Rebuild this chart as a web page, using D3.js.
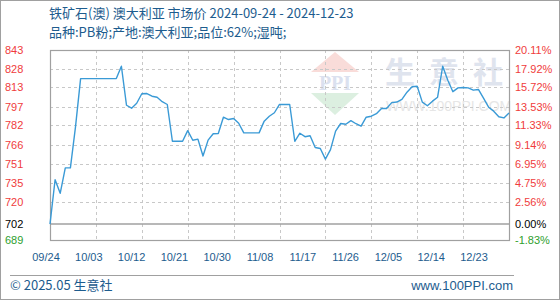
<!DOCTYPE html>
<html>
<head>
<meta charset="utf-8">
<script src="https://cdn.jsdelivr.net/npm/d3@7"></script>
<style>
  body { margin: 0; background: #fff; }
  svg text { font-family: "Liberation Sans", Arial, sans-serif; }
</style>
</head>
<body>
<div id="chart"></div>
<script>
// 铁矿石(澳) daily price, 2024-09-24 .. 2024-12-23
var startDate = "2024-09-24";
var prices = [
  702, 738, 727, 747.6, 747.6, 780.8, 820, 820, 820, 820,
  820, 820, 820, 820, 830, 798.4, 796, 800, 807.7, 807.9,
  805.7, 804.9, 801.3, 799, 769.2, 769.2, 769.2, 777.8, 770, 770.9,
  757.3, 770.1, 775.3, 775.5, 788.7, 786.8, 787.6, 783.8, 776, 776,
  776, 776, 785.5, 789.5, 792.3, 799, 799, 799, 769.2, 775.7,
  772.9, 773.7, 764.1, 763.3, 754.7, 762.4, 777.4, 783.6, 783, 785.9,
  783.4, 781.4, 788.7, 789.5, 791.5, 795.8, 795.8, 800.5, 801, 803.1,
  809, 813.4, 813.8, 800.9, 798, 801.7, 804.9, 830, 818.7, 809.4,
  812.5, 812.8, 812.5, 810.6, 811.2, 804.1, 796.8, 793.6, 789.1, 788.1,
  792.2
];
var basePrice = 702;

var leftTicks = [843, 828, 813, 797, 782, 766, 751, 735, 720, 702, 689];
var rightTicks = ["20.11%", "17.92%", "15.72%", "13.53%", "11.33%", "9.14%", "6.95%", "4.75%", "2.56%", "0.00%", "-1.83%"];
var xLabels = ["09/24", "10/03", "10/12", "10/21", "10/30", "11/08", "11/17", "11/26", "12/05", "12/14", "12/23"];

var title1 = "铁矿石(澳) 澳大利亚 市场价 2024-09-24 - 2024-12-23";
var title2 = "品种:PB粉;产地:澳大利亚;品位:62%;湿吨;";
var wmChars = ["生", "意", "社"];

var W = 560, H = 300;
var plot = {left: 50, right: 509, top: 50, bottom: 240};
var blue = "#1d5c8e";

var svg = d3.select("#chart").append("svg")
    .attr("width", W)
    .attr("height", H);

// outer frame
svg.append("rect")
    .attr("x", 0.5).attr("y", 0.5)
    .attr("width", W - 1).attr("height", H - 1)
    .attr("fill", "#fff").attr("stroke", "#a0a0a0");

// scales
var x = d3.scaleLinear()
    .domain([0, prices.length - 1])
    .range([plot.left, plot.right]);
var y = d3.scaleLinear()
    .domain([basePrice * (1 - 0.0183), basePrice * 1.2011])
    .range([plot.bottom, plot.top]);
var xl = d3.scalePoint()
    .domain(xLabels)
    .range([46, 474]);

var parse = d3.timeParse("%Y-%m-%d");
var d0 = parse(startDate);
function dayIndex(lbl) {
    var yr = +lbl.slice(0, 2) < 9 ? 2025 : 2024;
    return d3.timeDay.count(d0, parse(yr + "-" + lbl.replace("/", "-")));
}

// watermark
var wm = svg.append("g");
wm.append("path")
    .attr("d", "M311,72 L335,52 L359,72 Z")
    .attr("fill", "#f9dcd9");
wm.append("path")
    .attr("d", "M311,93 L359,93 L335,115 Z")
    .attr("fill", "#dcefe0");
wm.append("text")
    .attr("x", 335).attr("y", 90)
    .attr("text-anchor", "middle")
    .style("font-family", "Liberation Serif, serif")
    .style("font-size", "20px").style("font-weight", "bold")
    .attr("fill", "#dbe1ef")
    .text("PPI");
wm.selectAll(".wmc")
    .data(wmChars)
    .enter().append("text")
        .attr("class", "wmc")
        .attr("x", function(d, i) { return 385 + i * 44; })
        .attr("y", 83)
        .style("font-family", "Noto Sans CJK SC")
        .style("font-size", "30px").style("font-weight", "bold")
        .attr("fill", "#dfe4ee")
        .text(function(d) { return d; });
wm.append("text")
    .attr("x", 386).attr("y", 111)
    .style("font-size", "14px")
    .attr("fill", "#e6e6e6")
    .text("WWW.100PPI.COM");

// grid
var grid = svg.append("g");
leftTicks.forEach(function(v) {
    if (v === basePrice || v === leftTicks[leftTicks.length - 1]) return;
    grid.append("line")
        .attr("x1", plot.left).attr("x2", plot.right)
        .attr("y1", Math.round(y(v)) + 0.5).attr("y2", Math.round(y(v)) + 0.5)
        .attr("stroke", "#c8c8c8").attr("stroke-dasharray", "3,3");
});
xLabels.slice(1, -1).forEach(function(l) {
    var px = Math.round(x(dayIndex(l))) + 0.5;
    grid.append("line")
        .attr("x1", px).attr("x2", px)
        .attr("y1", plot.top).attr("y2", plot.bottom)
        .attr("stroke", "#c8c8c8").attr("stroke-dasharray", "3,3");
});
// base price line
grid.append("line")
    .attr("x1", plot.left).attr("x2", plot.right)
    .attr("y1", Math.round(y(basePrice))).attr("y2", Math.round(y(basePrice)))
    .attr("stroke", "#a0a0a0").attr("stroke-width", 1.5);

// plot border
svg.append("rect")
    .attr("x", plot.left + 0.5).attr("y", plot.top + 0.5)
    .attr("width", plot.right - plot.left).attr("height", plot.bottom - plot.top)
    .attr("fill", "none").attr("stroke", "#a0a0a0").attr("stroke-width", 1.2);

// price line
svg.append("path")
    .datum(prices)
    .attr("fill", "none")
    .attr("stroke", "#3a9ad6")
    .attr("stroke-width", 1.4)
    .attr("stroke-linejoin", "round")
    .attr("d", d3.line()
        .x(function(d, i) { return x(i); })
        .y(function(d) { return y(d); }));

// axis labels
function tickColor(i) {
    if (leftTicks[i] === basePrice) return "#000";
    if (leftTicks[i] < basePrice) return "#2ea02e";
    return "#f03c3c";
}
svg.append("g").selectAll("text")
    .data(leftTicks)
    .enter().append("text")
        .attr("x", 5)
        .attr("y", function(d) { return y(d); })
        .attr("dy", "0.35em")
        .style("font-size", "11px")
        .attr("fill", function(d, i) { return tickColor(i); })
        .text(function(d) { return d; });
svg.append("g").selectAll("text")
    .data(rightTicks)
    .enter().append("text")
        .attr("x", 515)
        .attr("y", function(d, i) { return y(leftTicks[i]); })
        .attr("dy", "0.35em")
        .style("font-size", "11px")
        .attr("fill", function(d, i) { return tickColor(i); })
        .text(function(d) { return d; });
svg.append("g").selectAll("text")
    .data(xLabels)
    .enter().append("text")
        .attr("x", function(d) { return xl(d); })
        .attr("y", 261)
        .attr("text-anchor", "middle")
        .style("font-size", "11px")
        .attr("fill", blue)
        .text(function(d) { return d; });

// titles
svg.append("text")
    .attr("x", 49).attr("y", 18)
    .style("font-family", "Noto Sans CJK SC")
    .style("font-size", "13px")
    .attr("fill", blue)
    .text(title1);
svg.append("text")
    .attr("x", 49).attr("y", 37)
    .style("font-family", "Noto Sans CJK SC")
    .style("font-size", "13px")
    .attr("fill", blue)
    .text(title2);

// footer
svg.append("line")
    .attr("x1", 10).attr("x2", 514)
    .attr("y1", 275.5).attr("y2", 275.5)
    .attr("stroke", "#a0a0a0");
svg.append("text")
    .attr("x", 10).attr("y", 290)
    .style("font-family", "Noto Sans CJK SC")
    .style("font-size", "13px")
    .attr("fill", blue)
    .text("© 2025.05 生意社");
svg.append("text")
    .attr("x", 513).attr("y", 290)
    .attr("text-anchor", "end")
    .style("font-size", "13px")
    .attr("fill", blue)
    .text("www.100PPI.com");
</script>
</body>
</html>
